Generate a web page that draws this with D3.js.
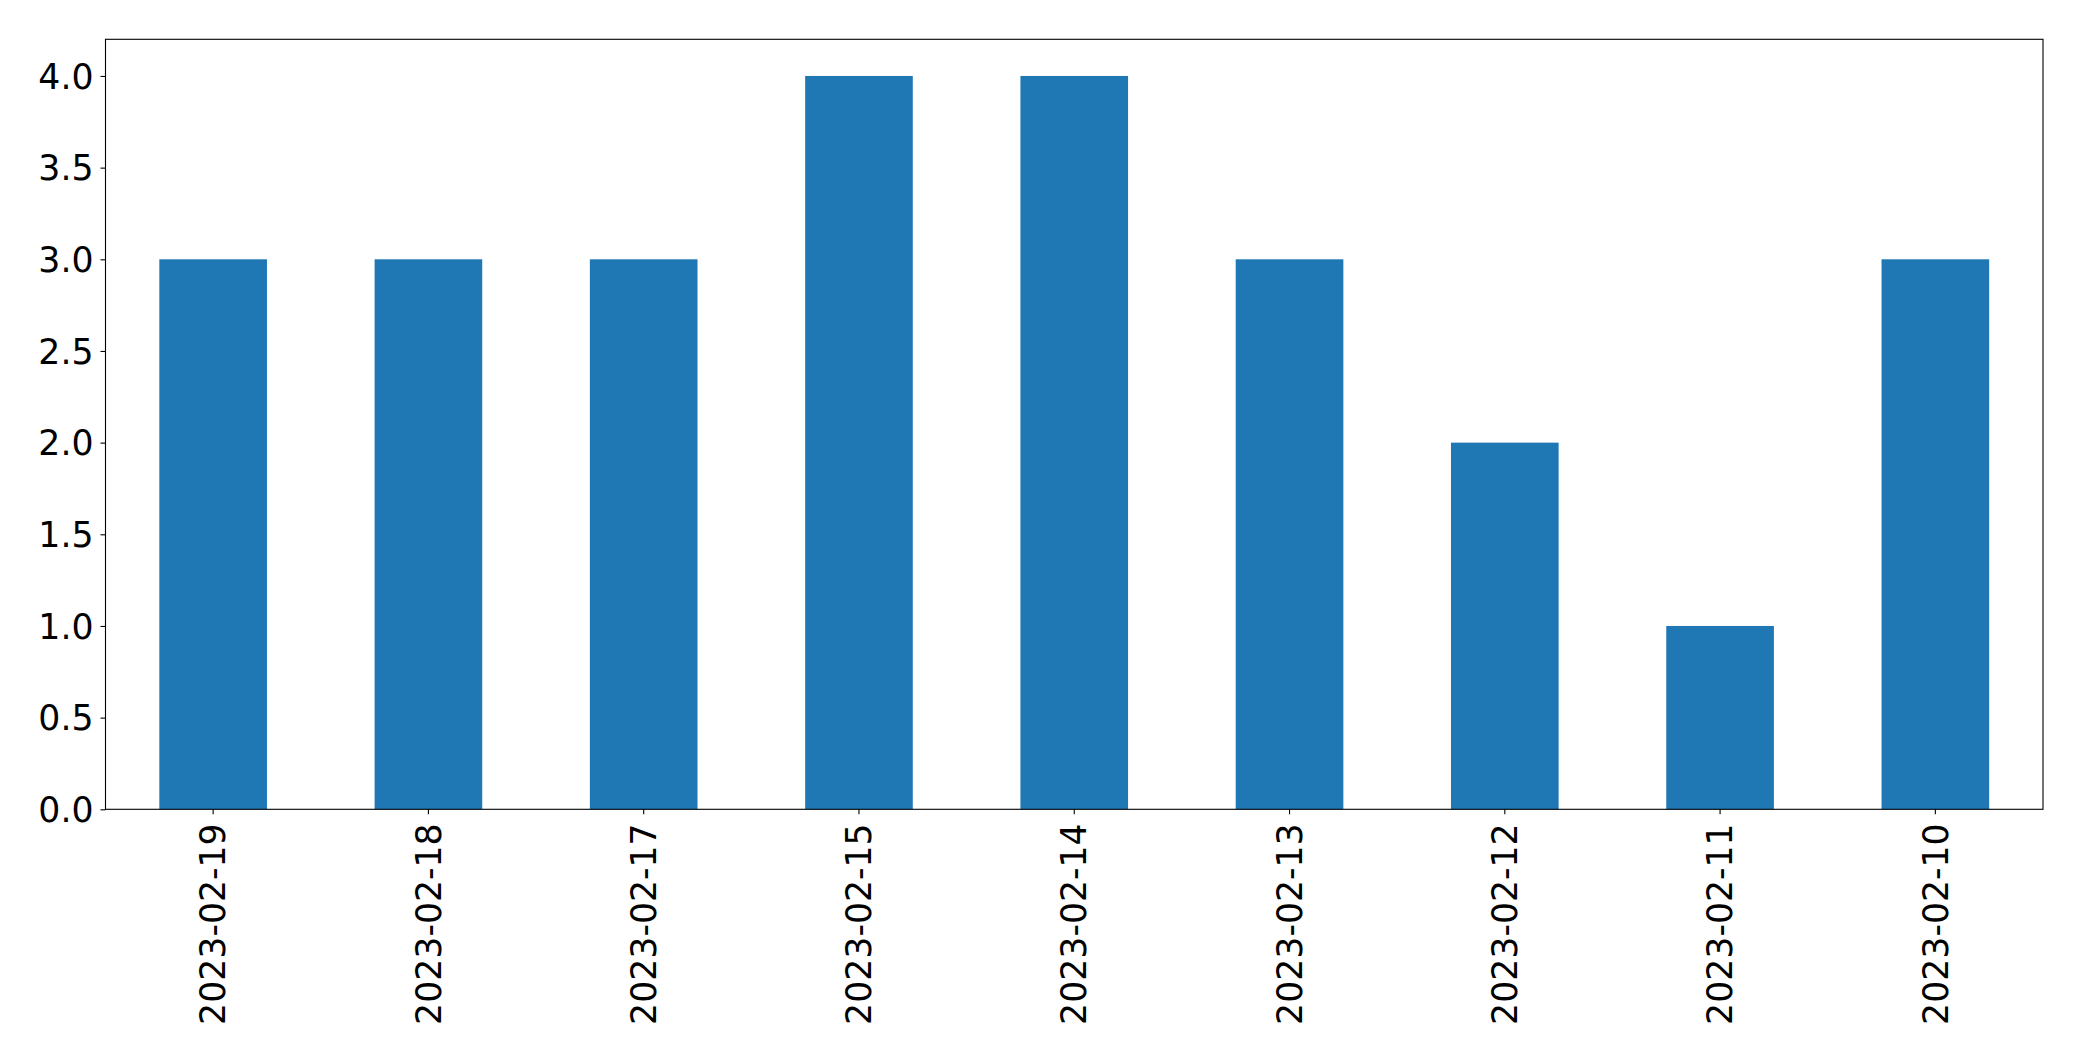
<!DOCTYPE html>
<html>
<head>
<meta charset="utf-8">
<script src="https://cdn.jsdelivr.net/npm/d3@7"></script>
<style>
  html, body { margin: 0; padding: 0; background: #fff; }
  text { font-family: "DejaVu Sans", sans-serif; fill: #000; }
</style>
</head>
<body>
<svg id="chart" width="2082" height="1061"></svg>
<script>
const categories = ["2023-02-19","2023-02-18","2023-02-17","2023-02-15","2023-02-14","2023-02-13","2023-02-12","2023-02-11","2023-02-10"];
const values = [3, 3, 3, 4, 4, 3, 2, 1, 3];
const yTicks = [0, 0.5, 1.0, 1.5, 2.0, 2.5, 3.0, 3.5, 4.0];

const W = 2082, H = 1061;
const margin = {left: 105.5, right: 2043, top: 39.3, bottom: 809.3};
const fontSize = 34.7;

const svg = d3.select("#chart");

const x = d3.scaleBand().domain(categories).range([margin.left, margin.right])
  .paddingInner(0.5).paddingOuter(0.25);
const y = d3.scaleLinear().domain([0, 4.2]).range([margin.bottom, margin.top]);

svg.append("rect").attr("x", 0).attr("y", 0).attr("width", W).attr("height", H).attr("fill", "#fff");

svg.append("g").selectAll("rect").data(values).join("rect")
  .attr("x", (d, i) => x(categories[i]))
  .attr("y", d => y(d))
  .attr("width", x.bandwidth())
  .attr("height", d => y(0) - y(d))
  .attr("fill", "#1f77b4");

// Y axis
const yAxis = d3.axisLeft(y).tickValues(yTicks).tickFormat(d3.format(".1f")).tickSize(5).tickPadding(7);
const gy = svg.append("g").attr("transform", `translate(${margin.left},0)`).call(yAxis);
gy.select(".domain").remove();
gy.selectAll("line").attr("stroke", "#000").attr("stroke-width", 1.1);
gy.selectAll("text").attr("font-size", fontSize).attr("font-family", "DejaVu Sans").attr("dy", "0.35em");

// X axis
const xAxis = d3.axisBottom(x).tickSize(5).tickPadding(0);
const gx = svg.append("g").attr("transform", `translate(0,${margin.bottom})`).call(xAxis);
gx.select(".domain").remove();
gx.selectAll("line").attr("stroke", "#000").attr("stroke-width", 1.1);
gx.selectAll("text")
  .attr("font-size", fontSize).attr("font-family", "DejaVu Sans")
  .attr("text-anchor", "end")
  .attr("transform", "translate(0,14) rotate(-90)")
  .attr("x", 0).attr("y", 0).attr("dy", "0.35em");

// Frame
svg.append("rect")
  .attr("x", margin.left).attr("y", margin.top)
  .attr("width", margin.right - margin.left).attr("height", margin.bottom - margin.top)
  .attr("fill", "none").attr("stroke", "#000").attr("stroke-width", 1.1);
</script>
</body>
</html>
